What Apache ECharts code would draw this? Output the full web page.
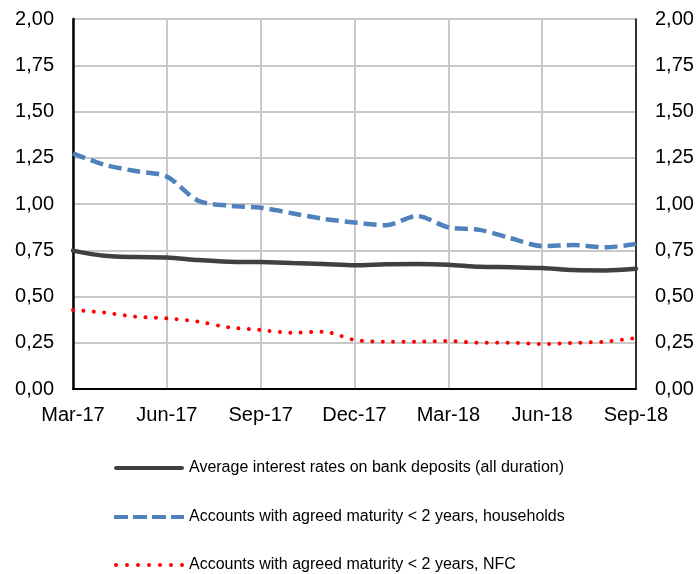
<!DOCTYPE html>
<html><head><meta charset="utf-8">
<script src="https://cdn.jsdelivr.net/npm/echarts@6/dist/echarts.min.js"></script>
<style>html,body{margin:0;padding:0;background:#fff}#c{width:699px;height:574px}</style>
</head><body><div id="c"></div>
<script>
const categories = ['Mar-17','Apr-17','May-17','Jun-17','Jul-17','Aug-17','Sep-17','Oct-17','Nov-17','Dec-17','Jan-18','Feb-18','Mar-18','Apr-18','May-18','Jun-18','Jul-18','Aug-18','Sep-18'];
const avgAll = [0.748,0.720,0.713,0.711,0.697,0.688,0.686,0.681,0.676,0.669,0.674,0.676,0.672,0.661,0.658,0.654,0.643,0.641,0.650];
const households = [1.274,1.212,1.178,1.148,1.018,0.991,0.980,0.950,0.920,0.900,0.885,0.935,0.874,0.860,0.815,0.773,0.778,0.766,0.784];
const nfc = [0.427,0.413,0.391,0.382,0.364,0.333,0.319,0.304,0.310,0.265,0.256,0.256,0.259,0.250,0.250,0.243,0.249,0.256,0.275];
const yTicks = [0, 0.25, 0.5, 0.75, 1, 1.25, 1.5, 1.75, 2];
const names = ['Average interest rates on bank deposits (all duration)','Accounts with agreed maturity < 2 years, households','Accounts with agreed maturity < 2 years, NFC'];

const fmt = v => v.toFixed(2).replace('.', ',');
const font = 'Liberation Sans, Arial, sans-serif';
const chart = echarts.init(document.getElementById('c'), null, {renderer:'canvas'});
const yAxisBase = {
  type:'value', min:yTicks[0], max:yTicks[yTicks.length-1], interval:0.25,
  axisLabel:{formatter:fmt, fontSize:20, color:'#000', fontFamily:font, margin:19},
  axisTick:{show:false}
};
// legend icons (70 x 4 units)
let dots = '';
for (let i = 0; i < 7; i++) { const cx = 2 + i * 11; dots += 'M' + (cx - 2) + ',2 A2,2 0 1,0 ' + (cx + 2) + ',2 A2,2 0 1,0 ' + (cx - 2) + ',2 Z '; }
const icons = [
  'path://M2,0 H68 A2,2 0 0,1 68,4 H2 A2,2 0 0,1 2,0 Z',
  'path://M0,0h14v4h-14z M19,0h14v4h-14z M38,0h14v4h-14z M57,0h13v4h-13z',
  'path://' + dots
];
const rowY = [466, 515, 563];
const legends = names.map((n, i) => ({
  orient:'horizontal', left:109, top:rowY[i] - 11, itemWidth:70, itemHeight:4, itemGap:0,
  textStyle:{fontSize:16, color:'#000', fontFamily:font, padding:[0,0,0,0]},
  data:[{name:n, icon:icons[i]}]
}));
chart.setOption({
  animation:false,
  grid:{left:73, right:63, top:19, bottom:185, show:true, borderColor:'#000', borderWidth:1},
  legend: legends,
  xAxis:{
    type:'category', data:categories, boundaryGap:false,
    axisLine:{lineStyle:{color:'#000', width:2}},
    axisTick:{show:false},
    axisLabel:{interval:2, fontSize:20, color:'#000', fontFamily:font, margin:16},
    splitLine:{show:true, interval:2, lineStyle:{color:'#c8c8c8', width:2}}
  },
  yAxis:[
    Object.assign({}, yAxisBase, {position:'left',
      axisLine:{show:true, lineStyle:{color:'#000', width:2.5}},
      splitLine:{show:true, lineStyle:{color:'#c8c8c8', width:2}}}),
    Object.assign({}, yAxisBase, {position:'right',
      axisLine:{show:true, lineStyle:{color:'#000', width:1.5}},
      splitLine:{show:false}})
  ],
  series:[
    {name:names[0], type:'line', data:avgAll, symbol:'none', smooth:0.3, z:3,
     lineStyle:{color:'#404040', width:4.5, cap:'round'}, itemStyle:{color:'#404040'}},
    {name:names[1], type:'line', data:households, symbol:'none', smooth:0.3, z:3,
     lineStyle:{color:'#4f81bd', width:4.5, type:[13,6]}, itemStyle:{color:'#4f81bd'}},
    {name:names[2], type:'line', data:nfc, symbol:'none', smooth:0.3, z:3,
     lineStyle:{color:'#ff0000', width:4, type:[0.01,10.4], cap:'round'}, itemStyle:{color:'#ff0000'}}
  ]
});
</script></body></html>
